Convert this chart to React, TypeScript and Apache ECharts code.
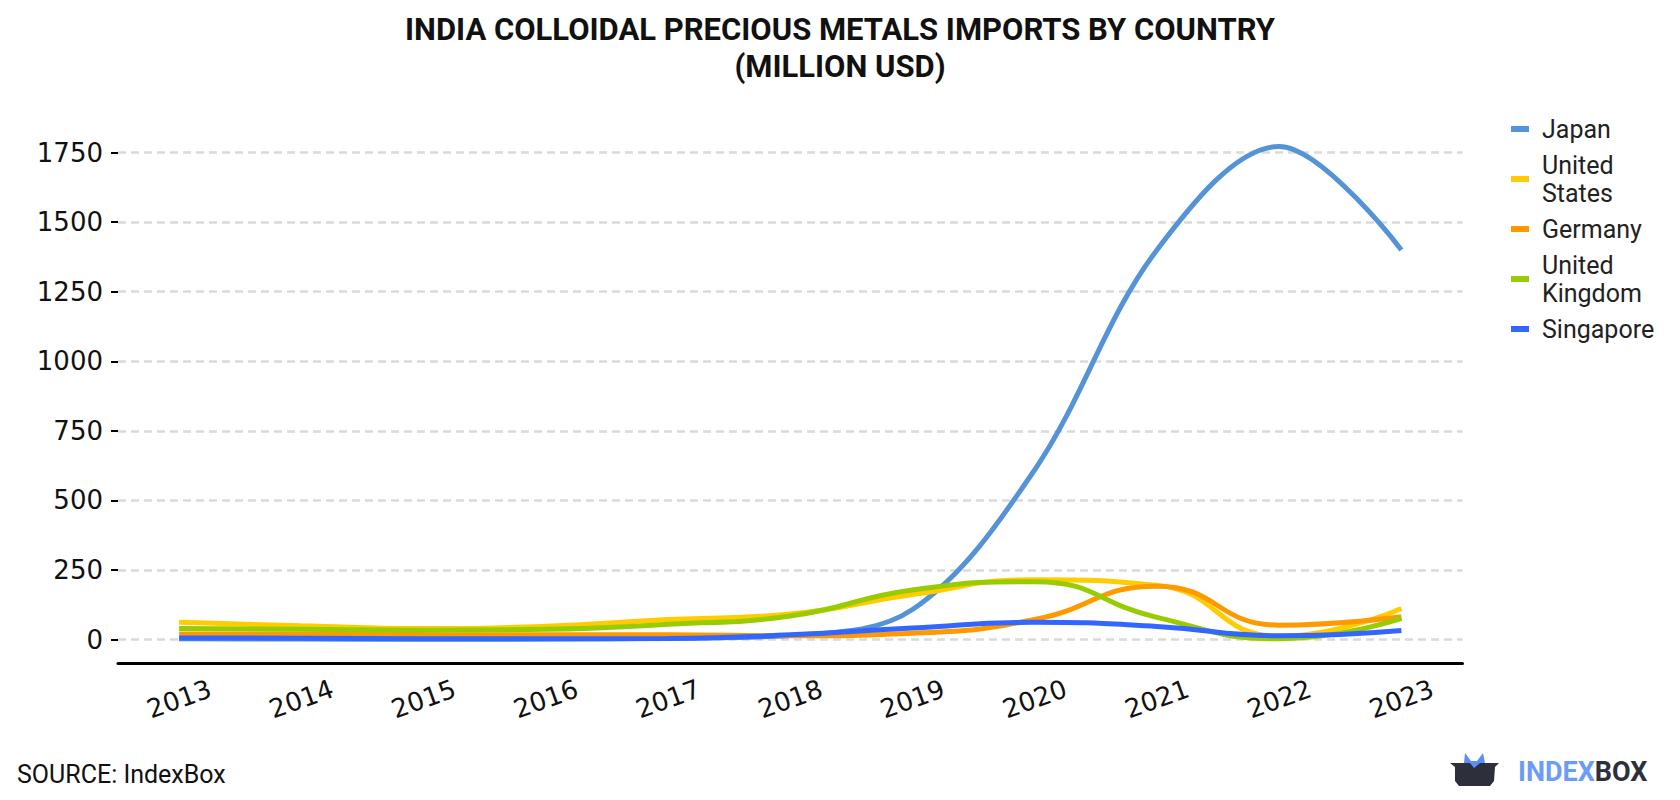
import React, { useEffect, useRef } from "react";
import * as echarts from "echarts";

const years = ["2013", "2014", "2015", "2016", "2017", "2018", "2019", "2020", "2021", "2022", "2023"];
const japan = [3, 2, 1, 2, 5, 15, 108, 610, 1400, 1772, 1400];
const unitedStates = [62, 50, 40, 48, 72, 92, 162, 215, 195, 12, 112];
const germany = [20, 20, 18, 17, 17, 14, 23, 72, 192, 52, 82];
const unitedKingdom = [40, 37, 34, 37, 55, 85, 178, 208, 80, 3, 76];
const singapore = [6, 5, 3, 3, 4, 17, 42, 62, 47, 14, 33];
const yTicks = { min: 0, max: 1750, interval: 250 };

const seriesDefs = [
  { name: "Japan", data: japan, color: "#5593d7", smooth: 0.35 },
  { name: "United States", data: unitedStates, color: "#ffcc00", smooth: 0.5 },
  { name: "Germany", data: germany, color: "#ff9900", smooth: 0.5 },
  { name: "United Kingdom", data: unitedKingdom, color: "#99cc00", smooth: 0.5 },
  { name: "Singapore", data: singapore, color: "#3366ff", smooth: 0.5 },
];

export default function App() {
  const ref = useRef<HTMLDivElement>(null);
  useEffect(() => {
    if (!ref.current) return;
    const chart = echarts.init(ref.current, null, { renderer: "svg" });
    chart.setOption({
      animation: false,
      backgroundColor: "#ffffff",
      title: {
        text: "INDIA COLLOIDAL PRECIOUS METALS IMPORTS BY COUNTRY\n(MILLION USD)",
        left: "center",
        top: 6,
        textStyle: {
          fontFamily: "Roboto",
          fontWeight: "bold",
          fontSize: 31,
          lineHeight: 37,
          color: "#111111",
        },
      },
      legend: {
        orient: "vertical",
        left: 1506,
        top: 110,
        icon: "rect",
        itemWidth: 18,
        itemHeight: 6,
        itemGap: 8,
        data: seriesDefs.map((s) => s.name),
        formatter: (name: string) => (name.startsWith("United ") ? name.replace(" ", "\n") : name),
        textStyle: { fontFamily: "Roboto", fontSize: 25, color: "#222222", lineHeight: 28, padding: [0, 0, 0, 8] },
      },
      grid: { left: 118, right: 217.5, top: 152.5, bottom: 160.4, containLabel: false },
      xAxis: {
        type: "category",
        data: years,
        boundaryGap: true,
        offset: 23.4,
        axisLine: { onZero: false, lineStyle: { color: "#000000", width: 3 } },
        axisTick: { alignWithLabel: true, length: 6, lineStyle: { color: "#000000", width: 2 } },
        axisLabel: {
          rotate: 20,
          align: "center",
          verticalAlign: "middle",
          fontFamily: "DejaVu Sans",
          fontSize: 26,
          color: "#111111",
          margin: 36,
        },
      },
      yAxis: {
        type: "value",
        min: yTicks.min,
        max: yTicks.max,
        interval: yTicks.interval,
        axisLine: { show: false },
        axisTick: { show: true, length: 7, lineStyle: { color: "#000000", width: 2 } },
        axisLabel: {
          fontFamily: "DejaVu Sans",
          fontSize: 26,
          color: "#111111",
          margin: 15,
          formatter: (v: number) => String(v),
        },
        splitLine: { lineStyle: { color: "#dadada", type: [8, 5], width: 2.5 } },
      },
      series: seriesDefs.map((s) => ({
        name: s.name,
        type: "line",
        data: s.data,
        smooth: s.smooth,
        clip: false,
        showSymbol: false,
        symbol: "none",
        lineStyle: { color: s.color, width: 5 },
        itemStyle: { color: s.color },
      })),
      graphic: [
        {
          type: "text",
          left: 17,
          top: 762,
          style: { text: "SOURCE: IndexBox", fontFamily: "Roboto", fontSize: 25, fill: "#111111" },
        },
        {
          type: "polygon",
          shape: { points: [[1463, 773], [1465, 753], [1471, 761], [1477, 761], [1483, 753], [1487, 773]] },
          style: { fill: "#5b8ff9" },
        },
        {
          type: "polygon",
          shape: {
            points: [[1450, 763], [1470, 763], [1474, 768], [1480, 763], [1499, 763], [1495, 767], [1494, 781], [1490, 786], [1459, 786], [1455, 781], [1455, 767]],
          },
          style: { fill: "#2d2f3b" },
        },
        {
          type: "text",
          left: 1518,
          top: 758,
          style: {
            text: "{a|INDEX}{b|BOX}",
            rich: {
              a: { fontFamily: "Roboto", fontWeight: "bold", fontSize: 27, fill: "#6b9cf7", color: "#6b9cf7" },
              b: { fontFamily: "Roboto", fontWeight: "bold", fontSize: 27, fill: "#2d2f3b", color: "#2d2f3b" },
            },
          },
        },
      ],
    });
    return () => chart.dispose();
  }, []);
  return <div ref={ref} style={{ position: "fixed", left: 0, top: 0, width: 1680, height: 800 }} />;
}
